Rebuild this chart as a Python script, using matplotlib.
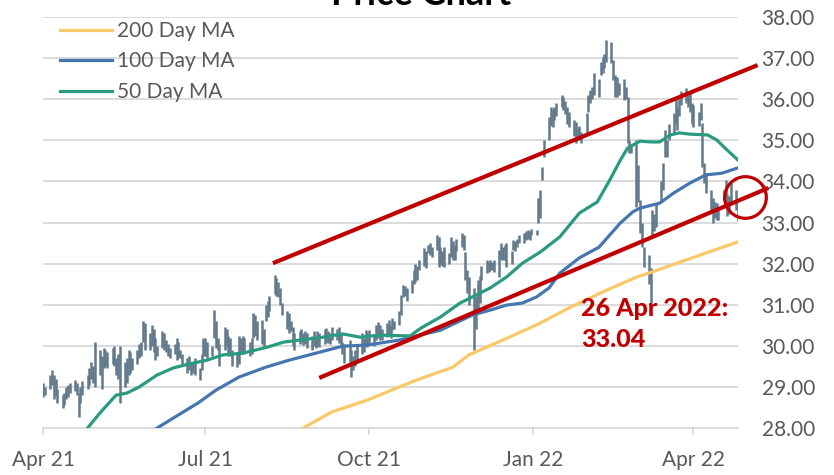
import matplotlib
matplotlib.use("Agg")
import matplotlib.pyplot as plt
import matplotlib.dates as mdates
import pandas as pd

plt.rcParams["font.family"] = ["Lato", "DejaVu Sans"]

# daily high / low, one row per week (Thu..Wed), 2021-04-01 .. 2022-04-26
highs = [
    29.10, 29.00, 29.30, 29.42, 29.30,
    29.20, 28.95, 28.80, 28.85, 29.00,
    29.05, 29.10, 29.17, 29.10, 28.85,
    29.00, 29.15, 29.30, 29.45, 29.60,
    29.50, 30.10, 29.90, 29.75, 29.95,
    29.90, 29.85, 29.95, 30.00, 29.70,
    29.80, 30.00, 29.60, 29.70, 29.90,
    29.85, 29.70, 29.90, 30.05, 30.10,
    30.60, 30.55, 30.30, 30.50, 30.40,
    30.20, 30.00, 30.35, 30.30, 30.15,
    30.05, 29.95, 30.05, 30.20, 30.10,
    29.90, 29.80, 29.70, 29.75, 29.60,
    29.60, 29.70, 29.45, 29.80, 30.20,
    30.20, 30.10, 30.00, 30.87, 30.60,
    30.20, 30.05, 30.46, 30.40, 30.25,
    30.20, 29.90, 29.85, 30.25, 30.20,
    30.25, 30.20, 30.10, 30.20, 30.80,
    30.75, 30.60, 30.63, 30.40, 31.00,
    31.10, 31.20, 31.72, 31.65, 31.55,
    31.40, 31.05, 30.85, 30.80, 30.60,
    30.45, 30.30, 30.35, 30.40, 30.30,
    30.35, 30.30, 30.25, 30.35, 30.20,
    30.35, 30.30, 30.40, 30.43, 30.35,
    30.30, 30.45, 30.40, 30.45, 30.30,
    30.10, 30.05, 30.14, 29.90, 29.75,
    29.90, 30.05, 30.31, 30.20, 30.38,
    30.30, 30.38, 30.25, 30.50, 30.58,
    30.50, 30.40, 30.55, 30.63, 30.50,
    30.68, 30.60, 30.85, 31.24, 31.48,
    31.45, 31.40, 31.60, 31.85, 32.00,
    31.95, 32.10, 32.38, 32.30, 32.45,
    32.50, 32.40, 32.70, 32.65, 32.40,
    32.30, 32.40, 32.25, 32.65, 32.55,
    32.45, 32.60, 32.75, 32.70, 32.28,
    31.85, 31.67, 31.40, 31.20, 31.60,
    31.70, 31.95, 32.09, 32.05, 32.10,
    32.05, 32.10, 32.33, 32.50, 32.40,
    32.45, 32.50, 32.30, 32.57, 32.55,
    32.60, 32.70, 32.75, 32.80, 32.82,
    32.80, 32.85, 32.82, 33.60, 33.79,
    34.35, 35.00, 35.57, 35.80, 35.75,
    35.80, 35.90, 36.10, 36.05, 35.95,
    35.80, 35.70, 35.50, 35.45, 35.30,
    35.35, 35.20, 35.66, 36.10, 36.22,
    36.30, 36.64, 36.50, 36.90, 37.03,
    37.10, 37.44, 37.40, 36.95, 36.60,
    36.54, 36.40, 36.50, 36.30, 36.05,
    35.00, 34.90, 35.00, 34.40, 33.55,
    33.00, 32.40, 32.20, 31.90, 33.30,
    33.20, 33.47, 34.00, 34.45, 35.25,
    35.00, 35.40, 35.66, 35.98, 35.80,
    36.00, 36.20, 36.27, 36.10, 36.15,
    35.90, 35.85, 35.70, 35.90, 35.42,
    34.45, 34.20, 33.79, 33.60, 33.50,
    33.47, 33.30, 33.80, 34.03, 33.70,
    33.65, 33.96, 33.80, 33.60,
]
lows = [
    28.75, 28.80, 28.95, 29.05, 28.70,
    28.80, 28.60, 28.49, 28.55, 28.70,
    28.75, 28.85, 28.90, 28.80, 28.27,
    28.60, 28.80, 28.95, 29.05, 29.20,
    29.10, 29.00, 29.30, 28.95, 29.45,
    29.50, 29.45, 29.55, 29.50, 29.30,
    29.20, 28.60, 29.00, 29.10, 29.30,
    29.35, 29.40, 29.55, 29.70, 29.75,
    30.10, 29.90, 29.90, 30.00, 29.85,
    29.65, 29.75, 29.95, 29.90, 29.85,
    29.75, 29.70, 29.80, 29.65, 29.70,
    29.70, 29.55, 29.35, 29.40, 29.30,
    29.35, 29.30, 29.17, 29.40, 29.75,
    29.75, 29.70, 29.75, 30.20, 29.95,
    29.90, 29.50, 29.90, 30.00, 29.75,
    29.75, 29.50, 29.48, 29.55, 29.80,
    29.80, 29.85, 29.75, 29.80, 30.20,
    30.25, 30.15, 30.05, 29.97, 30.60,
    30.70, 30.85, 31.25, 31.20, 31.19,
    31.00, 30.75, 30.40, 30.30, 30.35,
    30.00, 29.90, 30.05, 30.10, 30.02,
    30.05, 29.95, 29.90, 30.00, 29.95,
    30.00, 29.97, 30.05, 30.10, 30.08,
    30.05, 30.15, 30.14, 30.06, 30.00,
    29.80, 29.58, 29.60, 29.24, 29.40,
    29.50, 29.65, 29.80, 29.85, 30.00,
    29.97, 30.05, 30.00, 30.14, 30.20,
    30.15, 30.14, 30.21, 30.25, 30.20,
    30.38, 30.40, 30.50, 30.75, 31.19,
    31.20, 31.10, 31.28, 31.50, 31.55,
    31.60, 31.84, 31.95, 31.90, 32.25,
    32.20, 32.15, 32.33, 31.92, 32.00,
    31.95, 31.92, 32.00, 32.15, 32.09,
    32.10, 32.30, 32.40, 32.33, 31.60,
    31.28, 31.00, 29.90, 30.40, 30.90,
    31.05, 31.60, 31.77, 31.80, 31.85,
    31.84, 31.80, 31.67, 32.09, 32.10,
    32.10, 31.92, 32.00, 32.33, 32.30,
    32.40, 32.50, 32.50, 32.57, 32.60,
    32.57, 32.70, 32.70, 33.00, 33.10,
    34.03, 34.60, 35.00, 35.35, 35.32,
    35.50, 35.60, 35.80, 35.74, 35.65,
    35.40, 35.32, 35.10, 34.93, 35.00,
    35.00, 34.93, 35.18, 35.70, 35.90,
    36.00, 36.10, 36.05, 36.60, 36.64,
    36.75, 36.90, 36.88, 36.47, 36.05,
    36.05, 36.10, 35.98, 36.00, 34.93,
    34.69, 34.70, 33.38, 33.50, 32.74,
    32.40, 31.92, 31.50, 31.04, 32.65,
    32.80, 32.89, 33.50, 33.79, 34.60,
    34.60, 35.00, 35.18, 35.40, 35.25,
    35.60, 35.85, 35.90, 35.81, 35.70,
    35.40, 35.32, 35.35, 35.50, 34.35,
    33.95, 33.72, 33.30, 33.00, 33.10,
    33.06, 33.05, 33.55, 33.60, 33.15,
    33.20, 33.50, 33.30, 33.04,
]

ma50_dates = ["2021-04-26", "2021-05-03", "2021-05-12", "2021-05-18", "2021-05-25",
              "2021-06-04", "2021-06-13", "2021-06-22", "2021-07-02", "2021-07-11",
              "2021-07-22", "2021-08-05", "2021-08-14", "2021-08-23", "2021-09-05",
              "2021-09-16", "2021-09-26", "2021-10-07", "2021-10-24", "2021-10-30",
              "2021-11-10", "2021-11-21", "2021-11-28", "2021-12-08", "2021-12-17",
              "2021-12-26", "2022-01-05", "2022-01-16", "2022-01-27", "2022-02-06",
              "2022-02-13", "2022-02-19", "2022-02-23", "2022-03-02", "2022-03-08",
              "2022-03-13", "2022-03-19", "2022-03-24", "2022-03-30", "2022-04-09",
              "2022-04-14", "2022-04-20", "2022-04-26"]
ma50 = [28.00, 28.37, 28.80, 28.85, 29.00, 29.29, 29.46, 29.56, 29.65, 29.78,
        29.82, 29.97, 30.09, 30.14, 30.21, 30.29, 30.21, 30.26, 30.24, 30.43,
        30.70, 31.04, 31.19, 31.41, 31.67, 32.01, 32.28, 32.65, 33.23, 33.50,
        34.03, 34.52, 34.81, 34.98, 34.96, 34.96, 35.13, 35.18, 35.15, 35.13,
        35.01, 34.76, 34.52]

ma100_dates = ["2021-06-04", "2021-06-16", "2021-06-27", "2021-07-07", "2021-07-20",
               "2021-08-04", "2021-08-17", "2021-09-01", "2021-09-16", "2021-09-30",
               "2021-10-18", "2021-11-10", "2021-11-28", "2021-12-08", "2021-12-17",
               "2021-12-26", "2022-01-03", "2022-01-10", "2022-01-16", "2022-01-27",
               "2022-02-07", "2022-02-19", "2022-02-26", "2022-03-02", "2022-03-13",
               "2022-03-21", "2022-03-30", "2022-04-08", "2022-04-17", "2022-04-26"]
ma100 = [28.00, 28.32, 28.61, 28.92, 29.24, 29.48, 29.65, 29.82, 29.99, 30.02,
         30.14, 30.38, 30.75, 30.87, 30.99, 31.04, 31.19, 31.41, 31.77, 32.14,
         32.40, 32.99, 33.26, 33.35, 33.47, 33.72, 33.96, 34.16, 34.20, 34.33]

ma200_dates = ["2021-08-25", "2021-09-10", "2021-09-30", "2021-10-18", "2021-10-29",
               "2021-11-17", "2021-11-26", "2021-12-15", "2022-01-03", "2022-01-22",
               "2022-02-09", "2022-02-28", "2022-03-09", "2022-03-28", "2022-04-26"]
ma200 = [28.00, 28.39, 28.68, 29.00, 29.19, 29.48, 29.78, 30.14, 30.51, 30.94,
         31.31, 31.67, 31.80, 32.09, 32.53]

# trend channel end points (date, price)
upper_channel = (["2021-08-08", "2022-05-07"], [32.01, 36.83])
lower_channel = (["2021-09-03", "2022-05-13"], [29.22, 33.84])
last_date = "2022-04-30"
last_mark = 33.62
last_label = "26 Apr 2022:\n33.04"

GREY = "#595959"
RED = "#C00000"

days = pd.bdate_range("2021-04-01", "2022-04-26")

fig = plt.figure(figsize=(8.34, 4.75), dpi=100)
ax = fig.add_axes([0.0516, 0.0989, 0.8333, 0.8653])

ax.vlines(days, lows, highs, colors="#61798A", lw=1.8, zorder=2)

l200, = ax.plot(pd.to_datetime(ma200_dates), ma200, color="#F9C867", lw=2.3, zorder=3, label="200 Day MA")
l100, = ax.plot(pd.to_datetime(ma100_dates), ma100, color="#4676B0", lw=2.3, zorder=3, label="100 Day MA")
l50, = ax.plot(pd.to_datetime(ma50_dates), ma50, color="#2A9A80", lw=2.3, zorder=3, label="50 Day MA")

for xs, ys in (upper_channel, lower_channel):
    ax.plot(pd.to_datetime(xs), ys, color=RED, lw=3, zorder=4, clip_on=False, solid_capstyle="butt")

ax.plot(pd.Timestamp(last_date), last_mark, marker="o", ms=30, mfc="none", mec=RED, mew=2.3,
        clip_on=False, zorder=5)
ax.text(0.774, 0.319, last_label, transform=ax.transAxes, ha="left", va="top",
        fontsize=18, fontweight="black", color=RED, linespacing=1.45, zorder=6)

ax.set_xlim(pd.Timestamp("2021-04-01"), pd.Timestamp("2022-04-26"))
ax.set_ylim(28, 38)
ax.yaxis.set_major_locator(plt.MultipleLocator(1))
ax.yaxis.set_major_formatter(plt.FormatStrFormatter("%.2f"))
ax.yaxis.tick_right()
ax.xaxis.set_major_locator(mdates.MonthLocator(bymonth=[1, 4, 7, 10]))
ax.xaxis.set_major_formatter(mdates.DateFormatter("%b %y"))

ax.grid(axis="y", color="#D9D9D9", lw=1.3)
ax.set_axisbelow(True)
for side in ("top", "left", "right"):
    ax.spines[side].set_visible(False)
ax.spines["bottom"].set_color("#D9D9D9")
ax.spines["bottom"].set_linewidth(1.3)
ax.tick_params(axis="y", length=0, pad=17, labelsize=15, labelcolor=GREY)
ax.tick_params(axis="x", length=5, width=1.3, color="#D9D9D9", pad=11, labelsize=15, labelcolor=GREY)

ax.legend(handles=[l200, l100, l50], loc="upper left", bbox_to_anchor=(60 / 834, 1 - 21 / 475),
          bbox_transform=fig.transFigure, frameon=False, borderpad=0, borderaxespad=0,
          handlelength=2.5, handletextpad=0.25, labelspacing=0.5, fontsize=15, labelcolor=GREY)

fig.text(0.505, 1 - 5 / 475, "Price Chart", ha="center", va="baseline", fontsize=26,
         fontweight="bold", color="black")

fig.savefig("out.png", dpi=100)
